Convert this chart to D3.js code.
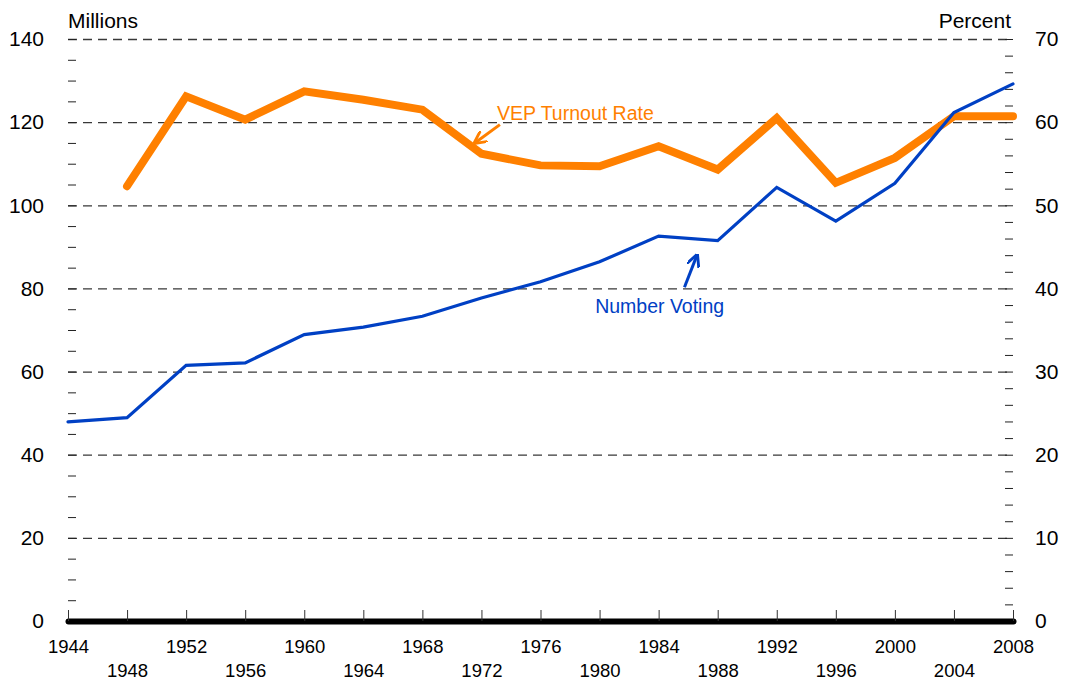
<!DOCTYPE html>
<html>
<head>
<meta charset="utf-8">
<script src="https://cdn.jsdelivr.net/npm/d3@7"></script>
<style>
  body { margin: 0; background: #fff; }
  svg { display: block; font-family: Arial, "Liberation Sans", sans-serif; }
</style>
</head>
<body>
<svg width="1065" height="682"></svg>
<script>
// data
var years = [1944, 1948, 1952, 1956, 1960, 1964, 1968, 1972, 1976, 1980, 1984, 1988, 1992, 1996, 2000, 2004, 2008];
var numberVoting = [47.9, 48.9, 61.5, 62.1, 68.9, 70.7, 73.3, 77.7, 81.6, 86.4, 92.6, 91.5, 104.3, 96.2, 105.3, 122.3, 129.2];
var vepRate = [null, 52.3, 63.1, 60.3, 63.7, 62.7, 61.5, 56.2, 54.8, 54.7, 57.1, 54.3, 60.5, 52.7, 55.7, 60.7, 60.7];
var leftTicks = [0, 20, 40, 60, 80, 100, 120, 140];
var rightTicks = [0, 10, 20, 30, 40, 50, 60, 70];
var yearTicks = d3.range(1944, 2009, 4);

var width = 1065;
var height = 682;
var margin = {top: 39, bottom: 61, left: 68, right: 52};
var orange = '#ff8000';
var blue = '#0040c4';

var svg = d3.select('svg');

// scales
var xScale = d3.scaleLinear()
  .domain([1944, 2008])
  .range([margin.left, width - margin.right]);

var yLeft = d3.scaleLinear()
  .domain([0, 140])
  .range([height - margin.bottom, margin.top]);

var yRight = d3.scaleLinear()
  .domain([0, 70])
  .range([height - margin.bottom, margin.top]);

var plotW = width - margin.right - margin.left;

// dashed gridlines
var grid = svg.append('g')
  .attr('transform', 'translate(' + [margin.left, 0] + ')')
  .call(d3.axisLeft(yLeft).tickValues(leftTicks.slice(1)).tickSize(-plotW).tickFormat(''));
grid.select('.domain').remove();
grid.selectAll('line')
  .attr('stroke', '#383838')
  .attr('stroke-width', 1.3)
  .attr('stroke-dasharray', '9,6');

// left minor ticks + labels
var leftMinor = svg.append('g')
  .attr('transform', 'translate(' + [margin.left, 0] + ')')
  .call(d3.axisLeft(yLeft).tickValues(d3.range(0, 141, 5)).tickSizeInner(-8).tickSizeOuter(0).tickFormat(''));
leftMinor.select('.domain').remove();
leftMinor.selectAll('line').attr('stroke', '#222');

var leftAxis = svg.append('g')
  .attr('transform', 'translate(' + [margin.left, 0] + ')')
  .call(d3.axisLeft(yLeft).tickValues(leftTicks).tickSize(0).tickPadding(24));
leftAxis.select('.domain').remove();
leftAxis.selectAll('text').attr('font-size', 21).attr('fill', '#000').attr('font-family', null);

// right minor ticks + labels
var rightMinor = svg.append('g')
  .attr('transform', 'translate(' + [width - margin.right, 0] + ')')
  .call(d3.axisRight(yRight).tickValues(d3.range(0, 71, 2)).tickSizeInner(-8).tickSizeOuter(0).tickFormat(''));
rightMinor.select('.domain').remove();
rightMinor.selectAll('line').attr('stroke', '#222');

var rightAxis = svg.append('g')
  .attr('transform', 'translate(' + [width - margin.right, 0] + ')')
  .call(d3.axisRight(yRight).tickValues(rightTicks).tickSize(0).tickPadding(22));
rightAxis.select('.domain').remove();
rightAxis.selectAll('text').attr('font-size', 21).attr('fill', '#000').attr('font-family', null);

// axis titles
svg.append('text')
  .attr('x', margin.left).attr('y', 28)
  .attr('font-size', 21)
  .text('Millions');
svg.append('text')
  .attr('x', width - margin.right - 2).attr('y', 28)
  .attr('text-anchor', 'end')
  .attr('font-size', 21)
  .text('Percent');

// lines
var vepLine = d3.line()
  .defined(d => d[1] != null)
  .x(d => xScale(d[0]))
  .y(d => yRight(d[1]));

var voteLine = d3.line()
  .x(d => xScale(d[0]))
  .y(d => yLeft(d[1]));

svg.append('path')
  .attr('d', vepLine(d3.zip(years, vepRate)))
  .attr('fill', 'none')
  .attr('stroke', orange)
  .attr('stroke-width', 8)
  .attr('stroke-linecap', 'round');

svg.append('path')
  .attr('d', voteLine(d3.zip(years, numberVoting)))
  .attr('fill', 'none')
  .attr('stroke', blue)
  .attr('stroke-width', 3.2)
  .attr('stroke-linecap', 'round');

// x axis
var xAxis = svg.append('g')
  .attr('transform', 'translate(' + [0, height - margin.bottom] + ')')
  .call(d3.axisBottom(xScale).tickValues(yearTicks).tickSizeInner(-11).tickSizeOuter(0).tickFormat(d3.format('d')));
xAxis.select('.domain')
  .attr('stroke', '#000')
  .attr('stroke-width', 6)
  .attr('stroke-linecap', 'round');
xAxis.selectAll('line').attr('stroke', '#333');
xAxis.selectAll('text')
  .attr('font-size', 18.5)
  .attr('fill', '#000')
  .attr('font-family', null)
  .attr('dy', null)
  .attr('y', (d, i) => i % 2 === 0 ? 32 : 56);

// annotations
var defs = svg.append('defs');
[['arrowO', orange], ['arrowB', blue]].forEach(m => {
  defs.append('marker')
    .attr('id', m[0])
    .attr('markerUnits', 'userSpaceOnUse')
    .attr('viewBox', '0 0 10 10')
    .attr('refX', 9).attr('refY', 5)
    .attr('markerWidth', 13).attr('markerHeight', 13)
    .attr('orient', 'auto')
    .append('path')
    .attr('d', 'M0,0L10,5L0,10')
    .attr('fill', 'none')
    .attr('stroke', m[1])
    .attr('stroke-width', 2.2);
});

svg.append('line')
  .attr('x1', xScale(1973.25)).attr('y1', yRight(59.7))
  .attr('x2', xScale(1971.55)).attr('y2', yRight(57.5))
  .attr('stroke', orange).attr('stroke-width', 3)
  .attr('marker-end', 'url(#arrowO)');
svg.append('text')
  .attr('x', xScale(1973.05)).attr('y', yRight(60.25))
  .attr('font-size', 19.5)
  .attr('fill', orange)
  .text('VEP Turnout Rate');

svg.append('line')
  .attr('x1', xScale(1985.75)).attr('y1', yLeft(80.3))
  .attr('x2', xScale(1986.6)).attr('y2', yLeft(88))
  .attr('stroke', blue).attr('stroke-width', 3)
  .attr('marker-end', 'url(#arrowB)');
svg.append('text')
  .attr('x', xScale(1979.7)).attr('y', yLeft(74.2))
  .attr('font-size', 19.5)
  .attr('fill', blue)
  .text('Number Voting');
</script>
</body>
</html>
